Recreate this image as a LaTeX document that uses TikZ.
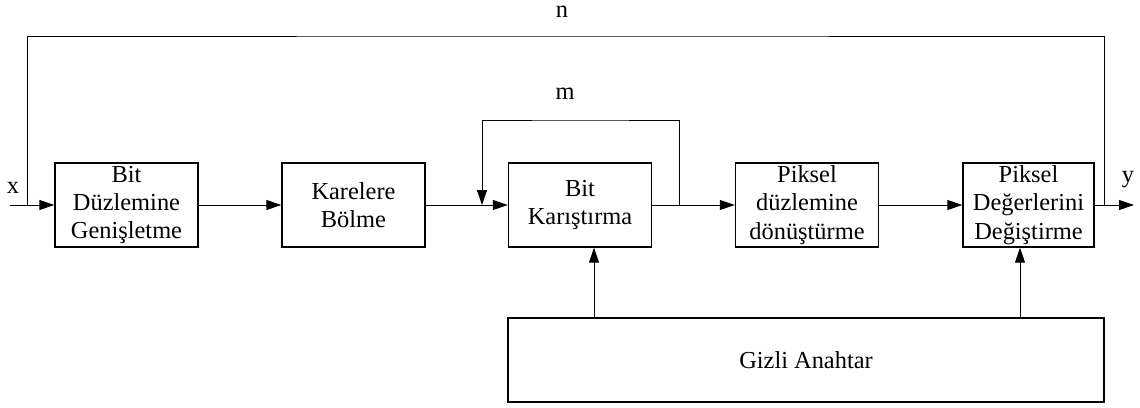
\documentclass[tikz,border=0pt]{standalone}
\usepackage{fontspec}
\setmainfont{Liberation Serif}
\usetikzlibrary{arrows.meta}
\begin{document}
\begin{tikzpicture}[x=0.5pt,y=-0.5pt,
  blk/.style={draw,line width=0.7pt,inner sep=0pt,minimum height=42pt,minimum width=71.5pt,align=center,font=\fontsize{12.2}{14.2}\selectfont},
  lbl/.style={inner sep=0pt,font=\fontsize{12.2}{14.2}\selectfont},
  conn/.style={line width=0.5pt},
  arr/.style={conn,-{Triangle[length=7.5pt,width=5pt]}}]
\useasboundingbox (0,0) rectangle (1140,407);
\node[blk] (b1) at (126.5,205) {Bit\\Düzlemine\\Genişletme};
\node[blk] (b2) at (353.5,205) {Karelere\\Bölme};
\node[blk] (b3) at (580,205) {Bit\\Karıştırma};
\node[blk] (b4) at (807,205) {Piksel\\düzlemine\\dönüştürme};
\node[blk,minimum width=65.5pt] (b5) at (1028.5,205) {Piksel\\Değerlerini\\Değiştirme};
\node[blk,minimum width=298pt] (g) at (806,360) {Gizli Anahtar};
\coordinate (xin) at (10,205);
\coordinate (xj) at (27,205);
\coordinate (ntop) at (560,36);
\coordinate (j1) at (482,205);
\coordinate (j2) at (679,205);
\coordinate (mtop) at (580,120);
\coordinate (j3) at (1104,205);
\coordinate (yout) at (1134,205);
\coordinate (g1) at (594,318);
\coordinate (g2) at (1020,318);
\node[lbl] (nl) at (562,12) {n};
\node[lbl] (ml) at (565,94) {m};
\node[lbl] (xl) at (13,188) {x};
\node[lbl] (yl) at (1128,180) {y};
\draw[arr] (xin) -- (b1.west);
\draw[arr] (b1.east) -- (b2.west);
\draw[arr] (b2.east) -- (b3.west);
\draw[arr] (j2) |- (mtop) -| (j1);
\draw[arr] (b3.east) -- (b4.west);
\draw[arr] (b4.east) -- (b5.west);
\draw[arr] (b5.east) -- (yout);
\draw[conn] (xj) |- (ntop) -| (j3);
\draw[arr] (g1) -- (g1 |- b3.south);
\draw[arr] (g2) -- (g2 |- b5.south);
\end{tikzpicture}
\end{document}
